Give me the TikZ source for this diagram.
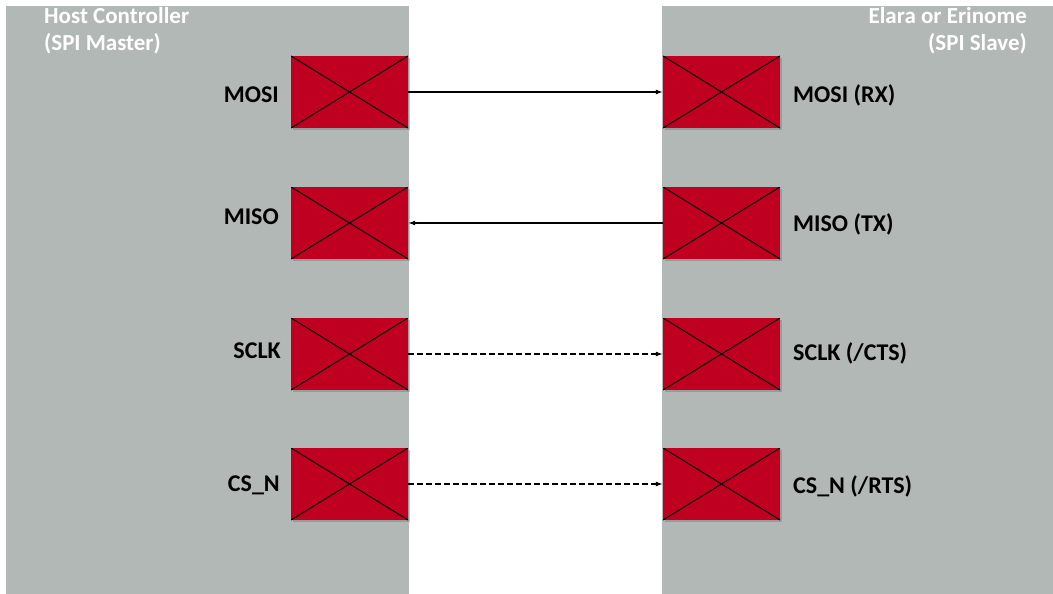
\documentclass[tikz,border=0pt]{standalone}
\usepackage{fontspec}
\setmainfont{Carlito}
\usepackage{tikz}
\usetikzlibrary{arrows.meta, shadows, positioning}
\definecolor{panelgrey}{RGB}{178,184,182}
\definecolor{padred}{RGB}{192,0,32}

\tikzset{
    panel/.style={fill=panelgrey, draw=none},
    pad/.style={fill=padred, minimum width=117pt, minimum height=72pt, inner sep=0pt,
        drop shadow={shadow xshift=2pt, shadow yshift=-2pt, opacity=0.35, fill=black!60},
        path picture={\draw[line width=1pt] (path picture bounding box.north west) -- (path picture bounding box.south east)
            (path picture bounding box.south west) -- (path picture bounding box.north east);}},
    sig/.style={font=\fontsize{24}{28}\selectfont\bfseries, inner sep=0pt},
    title/.style={font=\fontsize{23}{27}\selectfont\bfseries, text=white, inner sep=0pt, align=#1},
    wire/.style={line width=1.1pt, -{Latex[length=7pt,width=5pt]}},
}

\begin{document}
\begin{tikzpicture}[x=1pt, y=-1pt]
    \useasboundingbox (0,0) rectangle (1053,594);
    % the two devices
    \fill[panel] (6,6) rectangle (409,594);
    \fill[panel] (662,6) rectangle (1053,594);
    \node[title=left, anchor=north west] (host) at (44,7) {Host Controller\\(SPI Master)};
    \node[title=right, anchor=north east] (slave) at (1027,7) {Elara or Erinome\\(SPI Slave)};

    % pads of the host
    \node[pad] (hmosi) at (349.5,92) {};
    \node[pad] (hmiso) at (349.5,223) {};
    \node[pad] (hsclk) at (349.5,354) {};
    \node[pad] (hcsn)  at (349.5,484) {};
    \node[sig, anchor=east] (lhmosi) at (279,95) {MOSI};
    \node[sig, anchor=east] (lhmiso) at (279,217) {MISO};
    \node[sig, anchor=east] (lhsclk) at (281,351) {SCLK};
    \node[sig, anchor=east] (lhcsn)  at (280,485) {CS\_N};

    % pads of the slave
    \node[pad] (smosi) at (721.5,92) {};
    \node[pad] (smiso) at (721.5,223) {};
    \node[pad] (ssclk) at (721.5,354) {};
    \node[pad] (scsn)  at (721.5,484) {};
    \node[sig, anchor=west] (lsmosi) at (793,95) {MOSI (RX)};
    \node[sig, anchor=west] (lsmiso) at (793,224) {MISO (TX)};
    \node[sig, anchor=west] (lssclk) at (793,353) {SCLK (/CTS)};
    \node[sig, anchor=west] (lscsn)  at (793,486) {CS\_N (/RTS)};

    % wires
    \draw[wire] (hmosi.east) -- (smosi.west);
    \draw[wire] (smiso.west) -- (hmiso.east);
    \draw[wire, dash pattern=on 6pt off 3pt] (hsclk.east) -- (ssclk.west);
    \draw[wire, dash pattern=on 6pt off 3pt] (hcsn.east) -- (scsn.west);
\end{tikzpicture}
\end{document}
